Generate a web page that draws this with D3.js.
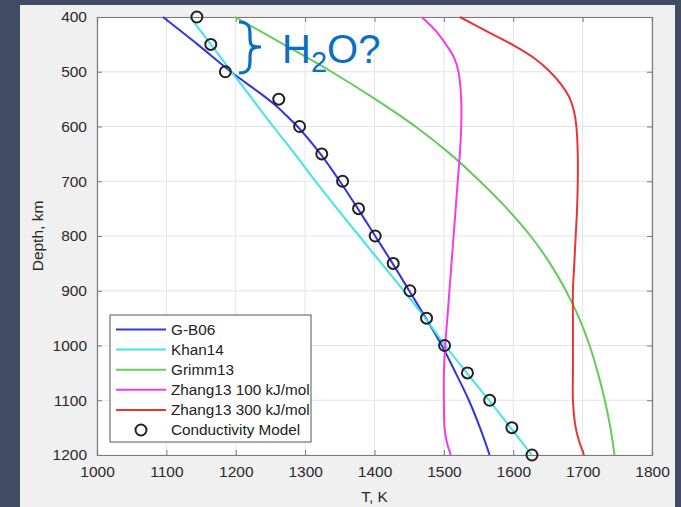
<!DOCTYPE html>
<html><head><meta charset="utf-8">
<script src="https://cdn.jsdelivr.net/npm/d3@7/dist/d3.min.js"></script>
<style>
html,body{margin:0;padding:0;background:#3f4c61;}
svg{display:block;}
text{font-family:"Liberation Sans",Arial,sans-serif;}
</style></head>
<body>
<svg id="chart" width="681" height="507"></svg>
<script>
// ---- data ----
const xTicks = [1000,1100,1200,1300,1400,1500,1600,1700,1800];
const yTicks = [400,500,600,700,800,900,1000,1100,1200];

const depthGB06 = [400,450,500,540,560,580,600,650,700,750,800,850,900,950,1000,1050,1100,1150,1200];
const tempGB06  = [1095,1145,1193,1236,1256,1273,1289,1322,1350,1376,1401,1426,1450,1474,1497,1517,1536,1552,1566];

const depthKhan14 = [400,450,500,550,600,650,700,750,800,850,900,950,1000,1050,1100,1150,1200];
const tempKhan14  = [1134,1164,1194,1224,1254,1285,1315,1346,1378,1410,1442,1473,1502,1533,1565,1596,1627];

const depthGrimm13 = [400,450,500,550,600,650,700,750,800,850,900,950,1000,1050,1100,1150,1200];
const tempGrimm13  = [1199,1269,1338,1401,1459,1509,1552,1591,1625,1653,1676,1695,1710,1722,1732,1740,1746];

const depthZhang100 = [400,425,450,475,500,550,600,650,700,750,800,850,900,950,1000,1050,1100,1150,1175,1200];
const tempZhang100  = [1468,1488,1503,1515,1521,1525,1525,1523,1520,1517,1514,1511,1508,1505,1502,1500,1500,1501,1504,1510];

const depthZhang300 = [400,425,450,475,500,525,550,575,600,650,700,750,800,850,900,950,1000,1050,1100,1150,1175,1200];
const tempZhang300  = [1523,1560,1598,1630,1653,1670,1682,1688,1691,1693,1693,1692,1690,1688,1686,1686,1686,1686,1686,1690,1695,1702];

const depthCond = [400,450,500,550,600,650,700,750,800,850,900,950,1000,1050,1100,1150,1200];
const tempCond  = [1144,1164,1185,1262,1292,1324,1354,1377,1401,1427,1451,1475,1501,1534,1566,1598,1627];

const seriesNames = ["G-B06","Khan14","Grimm13","Zhang13 100 kJ/mol","Zhang13 300 kJ/mol","Conductivity Model"];
const seriesColors = ["#3434e0","#3ee6e6","#64cc58","#f03cf0","#ea3434","#222222"];

// ---- layout ----
const svg = d3.select("#chart");
svg.append("rect").attr("x",20).attr("y",5).attr("width",655).attr("height",502).attr("fill","#f0f0f0");

const L=97, R=652, T=17, B=455;
const x = d3.scaleLinear().domain([1000,1800]).range([L,R]);
const y = d3.scaleLinear().domain([400,1200]).range([T,B]);

svg.append("rect").attr("x",L).attr("y",T).attr("width",R-L).attr("height",B-T).attr("fill","#ffffff");

// grid
const grid = svg.append("g");
grid.selectAll(".gx").data(xTicks).join("line")
  .attr("x1",d=>x(d)).attr("x2",d=>x(d)).attr("y1",T).attr("y2",B)
  .attr("stroke","#e4e4e4").attr("stroke-width",1);
grid.selectAll(".gy").data(yTicks).join("line")
  .attr("y1",d=>y(d)).attr("y2",d=>y(d)).attr("x1",L).attr("x2",R)
  .attr("stroke","#e4e4e4").attr("stroke-width",1);

// axes (ticks inward)
const axB = svg.append("g").attr("transform",`translate(0,${B})`)
  .call(d3.axisBottom(x).tickValues(xTicks).tickSize(-5).tickPadding(10).tickFormat(d3.format("d")));
const axT = svg.append("g").attr("transform",`translate(0,${T})`)
  .call(d3.axisTop(x).tickValues(xTicks).tickSize(-5).tickFormat(""));
const axL = svg.append("g").attr("transform",`translate(${L},0)`)
  .call(d3.axisLeft(y).tickValues(yTicks).tickSize(-5).tickPadding(10).tickFormat(d3.format("d")));
const axR = svg.append("g").attr("transform",`translate(${R},0)`)
  .call(d3.axisRight(y).tickValues(yTicks).tickSize(-5).tickFormat(""));
[axB,axT,axL,axR].forEach(a=>{
  a.select(".domain").attr("stroke","#7a7a7a").attr("stroke-width",1.2);
  a.selectAll(".tick line").attr("stroke","#7a7a7a");
  a.selectAll("text").attr("fill","#2a2a2a").attr("font-size",15.5).attr("font-family","'Liberation Sans',Arial,sans-serif");
});
axB.selectAll("text").attr("dy","0.75em");

// axis titles
svg.append("text").attr("x",(L+R)/2).attr("y",502).attr("text-anchor","middle")
  .attr("font-size",15.5).attr("fill","#2a2a2a").text("T, K");
svg.append("text").attr("transform",`translate(43,${(T+B)/2}) rotate(-90)`).attr("text-anchor","middle")
  .attr("font-size",15.5).attr("fill","#2a2a2a").text("Depth, km");

// lines
const line = d3.line().x(d=>x(d[0])).y(d=>y(d[1])).curve(d3.curveCatmullRom.alpha(0.5));
const series = [
  [tempGB06, depthGB06],
  [tempKhan14, depthKhan14],
  [tempGrimm13, depthGrimm13],
  [tempZhang100, depthZhang100],
  [tempZhang300, depthZhang300]
];
const plot = svg.append("g");
series.forEach((s,i)=>{
  const pts = s[0].map((t,j)=>[t, s[1][j]]);
  plot.append("path").datum(pts).attr("d",line).attr("fill","none")
    .attr("stroke",seriesColors[i]).attr("stroke-width",2);
});
plot.selectAll("circle.cond").data(tempCond.map((t,j)=>[t,depthCond[j]])).join("circle")
  .attr("class","cond").attr("cx",d=>x(d[0])).attr("cy",d=>y(d[1])).attr("r",5.5)
  .attr("fill","none").attr("stroke","#222").attr("stroke-width",2);

// legend
const lg = svg.append("g");
lg.append("rect").attr("x",110).attr("y",315).attr("width",201).attr("height",127)
  .attr("fill","#fff").attr("stroke","#555").attr("stroke-width",1);
seriesNames.forEach((n,i)=>{
  const yy = 329.5 + i*20.1;
  if(i<5){
    lg.append("line").attr("x1",116).attr("x2",166).attr("y1",yy).attr("y2",yy)
      .attr("stroke",seriesColors[i]).attr("stroke-width",2);
  } else {
    lg.append("circle").attr("cx",141).attr("cy",yy).attr("r",5.5).attr("fill","none")
      .attr("stroke","#222").attr("stroke-width",2);
  }
  lg.append("text").attr("x",171).attr("y",yy).attr("dy","0.35em").attr("font-size",15.3)
    .attr("fill","#222").text(n);
});

// annotation
const ann = svg.append("g");
ann.append("path")
  .attr("d","M239,22 C251,22 250,30 250,38 C250,46 252,47 261,47 C252,47 250,49 250,57 C250,65 251,73 239,73")
  .attr("fill","none").attr("stroke","#0a6fc2").attr("stroke-width",3.2);
const at = ann.append("text").attr("x",282).attr("y",63).attr("fill","#0a6fc2")
  .attr("font-family","'Open Sans',sans-serif").attr("font-size",40);
at.append("tspan").text("H");
at.append("tspan").attr("font-size",29).attr("dy",9).text("2");
at.append("tspan").attr("dy",-9).text("O?");
</script>
</body></html>
